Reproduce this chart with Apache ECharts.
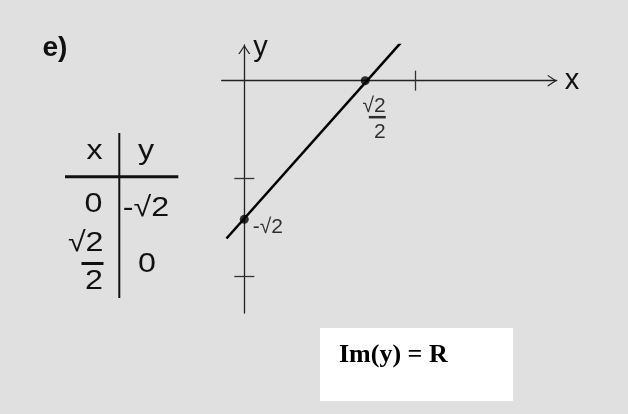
<!DOCTYPE html>
<html>
<head>
<meta charset="utf-8">
<script src="https://cdn.jsdelivr.net/npm/echarts@6/dist/echarts.min.js"></script>
<style>
  html, body { margin: 0; padding: 0; background: #e0e0e0; }
  #main { width: 628px; height: 414px; }
</style>
</head>
<body>
<div id="main"></div>
<script>
// 直线两端
var lineX = [-0.104, 0.917];
var lineY = [-1.61, 0.39];
// 表中的两个点
var pointX = [0, 0.7071];
var pointY = [-1.4142, 0];
var pointLabels = ['-√2', '√2/2'];
// 坐标轴刻度
var xTicks = [1];
var yTicks = [-1, -2];
// 值表
var tableHead = ['x', 'y'];
var tableColX = ['0', '√2/2'];
var tableColY = ['-√2', '0'];
var partLabel = 'e)';
var rangeText = 'Im(y) = R';

var sans = '"Liberation Sans", Arial, sans-serif';
var serif = '"Liberation Serif", "Times New Roman", serif';
var ink = '#111';
var chevron = 'path://M0,9 L6,0 L12,9 L10.6,9 L6,2.1 L1.4,9 Z';

// 分数写成富文本
function fracLabel(s) {
  var p = s.split('/');
  return '{n|' + p[0] + '}\n{b| }\n{d|' + p[1] + '}';
}

// 表格文字
function tText(txt, x, y, align) {
  return {
    type: 'text', x: x, y: y, scaleX: 1.15,
    style: { text: txt, font: '28px ' + sans, fill: ink, align: align || 'center', verticalAlign: 'middle' }
  };
}

function tableCell(txt, cx, mid) {
  if (txt.indexOf('/') < 0) return [tText(txt, cx, mid)];
  var p = txt.split('/');
  return [
    tText(p[0], cx + 10, mid - 21, 'right'),
    { type: 'rect', shape: { x: cx - 12, y: mid - 2, width: 22, height: 3 }, style: { fill: ink } },
    tText(p[1], cx + 0.5, mid + 17)
  ];
}

var graphics = [
  { type: 'text', x: 42.5, y: 48.5, style: { text: partLabel, font: 'bold 28px ' + sans, fill: ink, align: 'left', verticalAlign: 'middle' } },
  // 表格线
  { type: 'line', shape: { x1: 119.3, y1: 133, x2: 119.3, y2: 298 }, style: { stroke: ink, lineWidth: 2 } },
  { type: 'line', shape: { x1: 65, y1: 176.7, x2: 178.3, y2: 176.7 }, style: { stroke: ink, lineWidth: 3 } },
  tText(tableHead[0], 94.5, 151),
  tText(tableHead[1], 146, 151),
  // 值域框
  { type: 'rect', shape: { x: 320, y: 328, width: 193, height: 73 }, style: { fill: '#fff' } },
  { type: 'text', x: 339, y: 355.5, style: { text: rangeText, font: 'bold 26px ' + serif, fill: '#000', align: 'left', verticalAlign: 'middle' } }
];
graphics = graphics
  .concat(tableCell(tableColX[0], 93.5, 204.5))
  .concat(tableCell(tableColX[1], 93.5, 264))
  .concat(tableCell(tableColY[0], 146, 208.5))
  .concat(tableCell(tableColY[1], 147, 264));

var axisStyle = { color: '#222', width: 1.3 };
var tickStyle = { color: '#333', width: 1.3 };
var xMin = -0.132, xMax = 1.827, yMin = -2.37, yMax = 0.364;

function xAxisOf(pos, main) {
  return {
    type: 'value', min: xMin, max: xMax, position: pos,
    name: main ? 'x' : '', nameLocation: 'end', nameGap: 8,
    nameTextStyle: { fontSize: 29, color: ink, fontFamily: sans, verticalAlign: 'middle' },
    axisLine: {
      show: true, onZero: true,
      lineStyle: main ? axisStyle : { color: 'rgba(0,0,0,0)' },
      symbol: main ? ['none', chevron] : 'none', symbolSize: [12, 9], symbolOffset: [0, -4.5]
    },
    axisTick: { show: true, inside: false, length: 10, customValues: xTicks, lineStyle: tickStyle },
    axisLabel: { show: false },
    splitLine: { show: false }
  };
}

function yAxisOf(pos, main) {
  return {
    type: 'value', min: yMin, max: yMax, position: pos,
    name: main ? 'y' : '', nameLocation: 'end', nameGap: -3,
    nameTextStyle: { fontSize: 29, color: ink, fontFamily: sans, align: 'left', verticalAlign: 'middle', padding: [0, 0, 0, 9] },
    axisLine: {
      show: true, onZero: true,
      lineStyle: main ? axisStyle : { color: 'rgba(0,0,0,0)' },
      symbol: main ? ['none', chevron] : 'none', symbolSize: [12, 9], symbolOffset: [0, -4.5]
    },
    axisTick: { show: true, inside: false, length: 10, customValues: yTicks, lineStyle: tickStyle },
    axisLabel: { show: false },
    splitLine: { show: false }
  };
}

var chart = echarts.init(document.getElementById('main'));

var pointData = pointX.map(function (x, i) {
  var item = { value: [x, pointY[i]] };
  if (pointLabels[i].indexOf('/') < 0) {
    item.label = {
      show: true, position: 'right', distance: 4, offset: [0, 7.5],
      formatter: pointLabels[i], fontSize: 21, fontFamily: sans, color: '#000'
    };
  } else {
    item.label = {
      show: true, position: 'bottom', distance: 5, offset: [9, 7],
      formatter: fracLabel(pointLabels[i]),
      rich: {
        n: { fontSize: 21, fontFamily: sans, color: '#000', lineHeight: 18, align: 'right' },
        b: { width: 17, height: 2.5, lineHeight: 4, fontSize: 2, backgroundColor: '#000', align: 'right' },
        d: { fontSize: 21, fontFamily: sans, color: '#000', lineHeight: 26, align: 'right' }
      }
    };
  }
  return item;
});

var option = {
  backgroundColor: '#e0e0e0',
  animation: false,
  grid: { left: 221.7, right: 71.3, top: 45, bottom: 101, containLabel: false },
  xAxis: [xAxisOf('bottom', true), xAxisOf('top', false)],
  yAxis: [yAxisOf('left', true), yAxisOf('right', false)],
  graphic: graphics,
  series: [{
    type: 'line',
    data: lineX.map(function (x, i) { return [x, lineY[i]]; }),
    symbol: 'none',
    lineStyle: { color: '#000', width: 2.6 },
    silent: true
  }, {
    type: 'scatter',
    data: pointData,
    symbolSize: 9,
    itemStyle: { color: '#000' },
    z: 3
  }]
};

chart.setOption(option);
</script>
</body>
</html>
